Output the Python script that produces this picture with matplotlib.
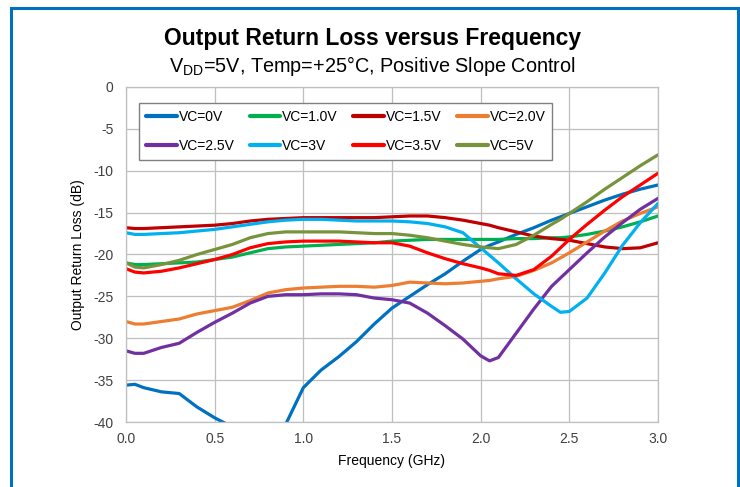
import matplotlib
matplotlib.use("Agg")
import matplotlib.pyplot as plt
from matplotlib.patches import Rectangle
import numpy as np

plt.rcParams['font.family'] = ['Liberation Sans', 'DejaVu Sans']
plt.rcParams['axes.unicode_minus'] = False

# frequency grid (GHz)
freq = [0, 0.05, 0.1, 0.2, 0.3, 0.4, 0.5, 0.6, 0.7, 0.8, 0.9, 1.0, 1.1, 1.2, 1.3, 1.4, 1.5,
        1.6, 1.7, 1.8, 1.9, 2.0, 2.05, 2.1, 2.2, 2.3, 2.4, 2.45, 2.5, 2.6, 2.7, 2.8, 2.9, 3.0]

# output return loss (dB), None = off the chart
vc_0v = [-35.6, -35.5, -35.9, -36.4, -36.6, -38.2, -39.5, -40.6, None, None, -40.3, -35.9, -33.8,
         -32.2, -30.4, -28.3, -26.4, -25.0, -23.6, -22.3, -20.8, -19.4, -18.9, -18.5, -17.6, -16.8,
         -15.9, -15.5, -15.1, -14.3, -13.5, -12.8, -12.2, -11.7]
vc_1v0 = [-21.0, -21.2, -21.2, -21.1, -21.0, -20.9, -20.6, -20.3, -19.8, -19.3, -19.1, -19.0, -18.9,
          -18.8, -18.7, -18.6, -18.4, -18.3, -18.2, -18.2, -18.2, -18.2, -18.2, -18.2, -18.1, -18.1,
          -18.0, -18.0, -17.9, -17.6, -17.2, -16.7, -16.1, -15.4]
vc_1v5 = [-16.8, -16.9, -16.9, -16.8, -16.7, -16.6, -16.5, -16.3, -16.0, -15.8, -15.7, -15.6, -15.6,
          -15.6, -15.6, -15.6, -15.5, -15.4, -15.4, -15.6, -15.9, -16.3, -16.5, -16.8, -17.3, -17.8,
          -18.1, -18.2, -18.3, -18.7, -19.1, -19.3, -19.2, -18.6]
vc_2v0 = [-28.0, -28.3, -28.3, -28.0, -27.7, -27.1, -26.7, -26.3, -25.5, -24.6, -24.2, -24.0, -23.9,
          -23.8, -23.8, -23.9, -23.7, -23.3, -23.4, -23.5, -23.4, -23.2, -23.1, -22.9, -22.6, -21.9,
          -21.0, -20.4, -19.8, -18.5, -17.2, -16.0, -15.1, -14.3]
vc_2v5 = [-31.5, -31.8, -31.8, -31.1, -30.6, -29.3, -28.1, -27.0, -25.8, -25.0, -24.8, -24.8, -24.7,
          -24.7, -24.8, -25.2, -25.4, -25.8, -27.0, -28.5, -30.1, -32.1, -32.7, -32.3, -29.4, -26.5,
          -23.8, -22.8, -21.8, -19.8, -17.9, -16.2, -14.6, -13.3]
vc_3v = [-17.4, -17.6, -17.6, -17.5, -17.4, -17.2, -17.0, -16.7, -16.4, -16.1, -15.9, -15.8, -15.8,
         -15.9, -16.0, -16.0, -16.0, -16.1, -16.3, -16.7, -17.4, -19.2, -20.1, -21.0, -22.9, -24.7,
         -26.2, -26.9, -26.8, -25.2, -22.2, -18.9, -16.2, -13.9]
vc_3v5 = [-21.7, -22.1, -22.2, -22.0, -21.6, -21.1, -20.6, -20.0, -19.2, -18.7, -18.5, -18.4, -18.4,
          -18.4, -18.5, -18.6, -18.6, -19.0, -19.8, -20.5, -21.1, -21.6, -21.9, -22.3, -22.5, -21.8,
          -20.2, -19.2, -18.2, -16.4, -14.7, -13.1, -11.7, -10.3]
vc_5v = [-21.0, -21.5, -21.6, -21.2, -20.7, -20.0, -19.4, -18.8, -18.0, -17.5, -17.3, -17.3, -17.3,
         -17.3, -17.4, -17.5, -17.5, -17.7, -18.0, -18.4, -18.8, -19.1, -19.2, -19.3, -18.8, -17.7,
         -16.4, -15.8, -15.1, -13.7, -12.2, -10.8, -9.4, -8.1]

labels = ['VC=0V', 'VC=1.0V', 'VC=1.5V', 'VC=2.0V', 'VC=2.5V', 'VC=3V', 'VC=3.5V', 'VC=5V']
series = [vc_0v, vc_1v0, vc_1v5, vc_2v0, vc_2v5, vc_3v, vc_3v5, vc_5v]
colors = ['#0070C0', '#00B050', '#C00000', '#ED7D31', '#7030A0', '#00B0F0', '#FF0000', '#77933C']

fig = plt.figure(figsize=(7.4, 4.87), dpi=100)
ax = fig.add_axes([126/740, 1 - 422/487, 532/740, 335/487])

for vals, lab, col in zip(series, labels, colors):
    y = np.array([np.nan if v is None else v for v in vals], dtype=float)
    ax.plot(freq, y, color=col, lw=2.3, label=lab, solid_capstyle='round')

ax.set_xlim(0, 3)
ax.set_ylim(-40, 0)
ax.set_xticks(np.arange(0, 3.01, 0.5))
ax.set_yticks(np.arange(-40, 1, 5))
ax.set_xticklabels([f'{t:.1f}' for t in np.arange(0, 3.01, 0.5)])
ax.grid(True, color='#BFBFBF', lw=0.9)
ax.set_axisbelow(True)
for s in ax.spines.values():
    s.set_color('#BFBFBF')
    s.set_linewidth(0.9)
ax.tick_params(length=0, labelsize=10, colors='#404040')
ax.tick_params(axis='y', pad=9)
ax.tick_params(axis='x', pad=7)
ax.set_xlabel('Frequency (GHz)', fontsize=10, labelpad=6)
ax.set_ylabel('Output Return Loss (dB)', fontsize=10, labelpad=6)

# legend is filled row by row in the reference, matplotlib fills by column
handles, labs = ax.get_legend_handles_labels()
order = [0, 4, 1, 5, 2, 6, 3, 7]
leg = ax.legend([handles[i] for i in order], [labs[i] for i in order],
                loc='upper left', bbox_to_anchor=((139 - 126)/532, (422 - 103)/335), ncol=4,
                fontsize=10, handlelength=2.2, handletextpad=0.15, columnspacing=1.1,
                labelspacing=1.1, borderpad=0.5, borderaxespad=0, fancybox=False,
                framealpha=1, edgecolor='#808080')
leg.get_frame().set_linewidth(1.0)
for h in leg.get_lines():
    h.set_linewidth(3)

fig.text(0.503, 1 - 38/487, 'Output Return Loss versus Frequency', ha='center', va='center',
         fontsize=16.5, fontweight='bold')
fig.text(0.503, 1 - 66/487, r'V$_{\mathregular{DD}}$=5V, Temp=+25°C, Positive Slope Control',
         ha='center', va='center', fontsize=14.3)

# blue frame around the whole card
fig.patches.append(Rectangle((11/740, -0.05), (737.5 - 11)/740, 1.05 - 8.5/487,
                             transform=fig.transFigure, fill=False, edgecolor='#0070C0', lw=2.2))

fig.savefig('out.png', dpi=100)
